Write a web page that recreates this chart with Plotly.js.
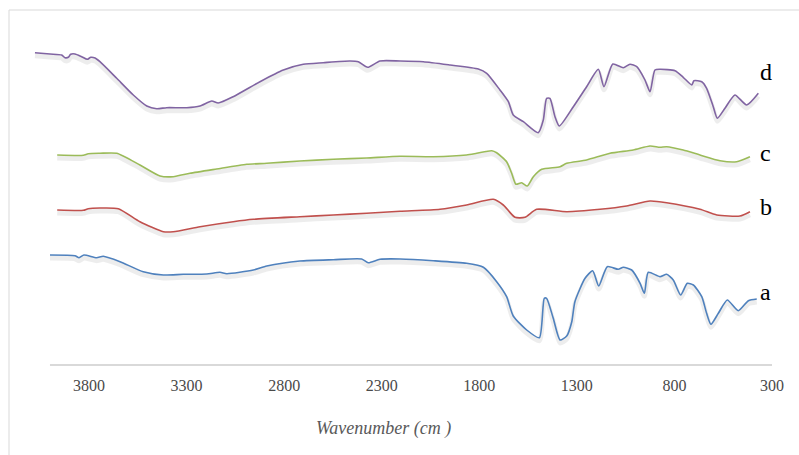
<!DOCTYPE html>
<html>
<head>
<meta charset="utf-8">
<script src="https://cdn.plot.ly/plotly-3.0.1.min.js"></script>
<style>
  html, body { margin: 0; padding: 0; background: #ffffff; }
  #chart { width: 799px; height: 455px; }
</style>
</head>
<body>
<div id="chart"></div>
<script>
// FTIR spectra (transmittance, arbitrary units, curves offset vertically)
var wnD = [4077,4000,3940,3923,3906,3894,3872,3838,3809,3791,3769,3744,3658,3573,3504,3453,3402,3299,3231,3171,3138,3061,2924,2804,2702,2599,2463,2420,2372,2309,2206,2087,1950,1805,1762,1694,1651,1626,1574,1498,1472,1455,1438,1412,1390,1318,1250,1190,1161,1116,1062,1028,993,951,925,900,874,797,755,711,700,660,635,601,580,541,490,430,370];
var tD  = [312.3,311,310,307.3,307.7,310.7,311,308.3,305.7,307.7,307,303.3,286.7,270,259,256.3,257.3,257.3,259,264,262,268.3,283.3,295,300.7,302.3,304,303.3,297.7,304,304,303.3,300,296,291.7,275,263.3,250,243.3,232.3,245,266.7,266.7,248.3,239,258.3,278.3,295.7,278.3,301,297.3,300.7,298.3,285,273.3,295,295.7,294.3,287.7,280,284.3,283.3,276.7,258.3,246.7,256.7,270,260,271.7];

var wnC = [3963,3829,3804,3744,3658,3539,3436,3368,3283,3146,2992,2889,2719,2548,2377,2206,2036,1865,1813,1736,1711,1660,1634,1612,1583,1554,1523,1480,1386,1352,1250,1130,1011,925,874,840,755,669,566,481,413];
var tC  = [210,209.7,211.3,211.7,211.7,200,189,188.3,191.7,196,200.7,201.7,204,205.7,207,208.7,208.3,210,211.7,214.3,212.3,203.3,191.7,180.7,182.3,179,188.3,195.7,198.3,201.7,205,211.7,215,219,217.7,218.3,215,210,204.3,203.3,208.3];

var wnB = [3963,3829,3804,3744,3650,3539,3419,3368,3231,3061,2958,2719,2548,2377,2206,2001,1865,1728,1677,1617,1566,1506,1352,1181,1045,925,840,669,583,464,413];
var tB  = [155,154.7,156.3,157,156.3,143.3,133.3,133.3,138.3,143.3,145.7,148.3,150,151.7,153.7,155.7,160,165.7,160,147.7,147.7,155.7,153.3,155.7,159,164,162.3,155.7,150,149,153.3];

var wnA = [4000,3872,3851,3826,3761,3727,3641,3522,3419,3317,3197,3129,3094,2958,2889,2719,2548,2403,2369,2309,2206,2036,1865,1779,1711,1660,1626,1557,1492,1467,1455,1421,1386,1352,1326,1310,1258,1219,1188,1144,1088,1062,1019,976,954,934,874,840,806,768,734,703,660,635,613,575,529,473,421,378];
var tA  = [110,109.3,107.3,110,107.3,108.7,103.3,93.3,90,90.7,91,92.7,91.3,95,99,104,105.3,106,102.3,105.7,106,104.3,101.7,97.7,83.3,68.3,49,35,27.3,66.7,66.7,46.7,25,29,43.3,63.3,86.7,94.3,79,98.3,95.7,97.7,95,81.7,71.7,92.7,88.3,90.7,85,70,81.7,80,68.3,51.7,40.7,51.7,65,54.3,64.3,66];

var seriesNames = ['a', 'b', 'c', 'd'];
var seriesColors = ['#4F81BD', '#C0504D', '#9BBB59', '#8064A2'];
var tickVals = [3800, 3300, 2800, 2300, 1800, 1300, 800, 300];
var tickText = ['3800', '3300', '2800', '2300', '1800', '1300', '800', '300'];
var xTitle = 'Wavenumber (cm )';

var allX = [wnA, wnB, wnC, wnD];
var allY = [tA, tB, tC, tD];

var traces = [];
// soft drop shadow under each spectrum
for (var i = 0; i < 4; i++) {
  traces.push({
    x: allX[i],
    y: allY[i].map(function (v) { return v - 3; }),
    type: 'scatter', mode: 'lines',
    line: { color: 'rgba(0,0,0,0.07)', width: 5, shape: 'spline', smoothing: 0.6 },
    hoverinfo: 'skip', showlegend: false
  });
}
for (var j = 0; j < 4; j++) {
  traces.push({
    x: allX[j], y: allY[j],
    name: seriesNames[j],
    type: 'scatter', mode: 'lines',
    line: { color: seriesColors[j], width: 1.6, shape: 'spline', smoothing: 0.6 },
    showlegend: false
  });
}

var labelY = [73, 158, 212, 293];
var annotations = [];
for (var k = 0; k < 4; k++) {
  annotations.push({
    x: 372, y: labelY[k], xref: 'x', yref: 'y',
    text: seriesNames[k], showarrow: false,
    xanchor: 'left', yanchor: 'middle',
    font: { family: 'Liberation Serif, Times New Roman, serif', size: 24, color: '#000000' }
  });
}
annotations.push({
  x: 0.477, y: -0.178, xref: 'paper', yref: 'paper',
  text: '<i>' + xTitle + '</i>', showarrow: false,
  xanchor: 'center', yanchor: 'middle',
  font: { family: 'Liberation Serif, Times New Roman, serif', size: 18, color: '#595959' }
});

var layout = {
  width: 799, height: 455,
  margin: { l: 30, r: 27, t: 10, b: 90 },
  paper_bgcolor: '#ffffff', plot_bgcolor: '#ffffff',
  showlegend: false,
  xaxis: {
    range: [4102.4, 300],
    showgrid: false, zeroline: false, showline: false,
    tickmode: 'array', tickvals: tickVals, ticktext: tickText,
    ticks: '', ticklabelstandoff: 9,
    tickfont: { family: 'Liberation Serif, Times New Roman, serif', size: 16, color: '#4a4a4a' }
  },
  yaxis: {
    range: [0, 355],
    showgrid: false, zeroline: false, showline: false,
    showticklabels: false, ticks: ''
  },
  shapes: [
    { type: 'line', xref: 'x', yref: 'paper', x0: 4000, x1: 300, y0: 0, y1: 0,
      line: { color: '#d9d9d9', width: 2 } },
    { type: 'line', xref: 'paper', yref: 'paper', x0: -0.0283, x1: -0.0283, y0: 1, y1: -0.26,
      line: { color: '#d9d9d9', width: 1 } },
    { type: 'line', xref: 'paper', yref: 'paper', x0: -0.0283, x1: 1.04, y0: 1, y1: 1,
      line: { color: '#d9d9d9', width: 1 } }
  ],
  annotations: annotations
};

Plotly.newPlot('chart', traces, layout, { staticPlot: true, displayModeBar: false });
</script>
</body>
</html>
